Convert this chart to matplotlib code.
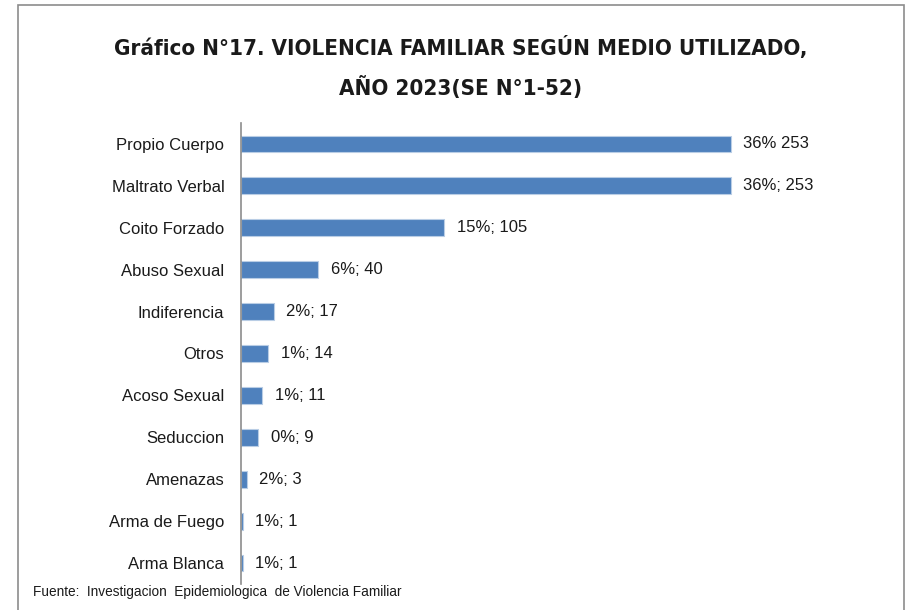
import matplotlib
matplotlib.use("Agg")
import matplotlib.pyplot as plt
from matplotlib.patches import Rectangle

categories = ["Propio Cuerpo", "Maltrato Verbal", "Coito Forzado", "Abuso Sexual",
              "Indiferencia", "Otros", "Acoso Sexual", "Seduccion", "Amenazas",
              "Arma de Fuego", "Arma Blanca"]
values = [253, 253, 105, 40, 17, 14, 11, 9, 3, 1, 1]
value_labels = ["36% 253", "36%; 253", "15%; 105", "6%; 40", "2%; 17", "1%; 14",
                "1%; 11", "0%; 9", "2%; 3", "1%; 1", "1%; 1"]

plt.rcParams['font.family'] = ['Liberation Sans', 'DejaVu Sans']

fig = plt.figure(figsize=(9.12, 6.10), dpi=100)
ax = fig.add_axes([241 / 912, 1 - 584 / 610, 639 / 912, 461 / 610])

ypos = list(range(len(categories)))
ax.barh(ypos, values, height=0.4, color='#4F81BD', edgecolor='#B9CDE5', linewidth=0.8)
ax.set_ylim(len(categories) - 0.5, -0.5)
ax.set_xlim(0, 330)

for y, v, lab in zip(ypos, values, value_labels):
    ax.annotate(lab, (v, y), xytext=(9, 0), textcoords='offset points',
                va='center', ha='left', fontsize=12, color='#1a1a1a')

ax.set_yticks(ypos)
ax.set_yticklabels(categories, fontsize=12, color='#1a1a1a')
ax.tick_params(axis='y', length=0, pad=12)
ax.set_xticks([])
for s in ['top', 'right', 'bottom']:
    ax.spines[s].set_visible(False)
ax.spines['left'].set_color('#8c8c8c')
ax.spines['left'].set_linewidth(1.2)

title_kw = dict(ha='center', va='center', fontsize=16, fontweight='bold',
                color='#1a1a1a', family=['DejaVu Sans'], fontstretch='condensed')
fig.text(0.505, 0.922, "Gráfico N°17. VIOLENCIA FAMILIAR SEGÚN MEDIO UTILIZADO,", **title_kw)
fig.text(0.505, 0.856, "AÑO 2023(SE N°1-52)", **title_kw)

fig.text(33 / 912, 1 - 592 / 610, "Fuente:  Investigacion  Epidemiologica  de Violencia Familiar",
         ha='left', va='center', fontsize=9.8, color='#1a1a1a')

fig.patches.append(Rectangle((18 / 912, -0.02), 886 / 912, 1.02 + 1 - 5 / 610 - 1,
                             transform=fig.transFigure, fill=False,
                             edgecolor='#8c8c8c', linewidth=1.2))

fig.savefig("out.png", dpi=100)
